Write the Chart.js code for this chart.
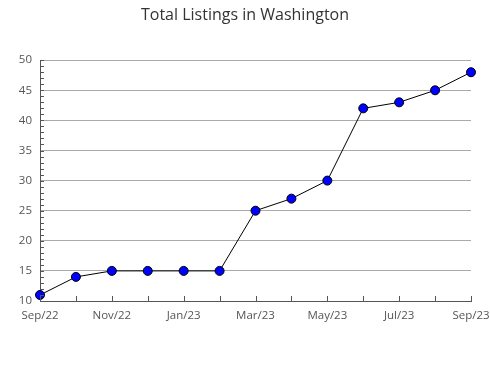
<!DOCTYPE html>
<html>
<head>
<meta charset="utf-8">
<script src="https://cdn.jsdelivr.net/npm/chart.js@4"></script>
<style>
  html, body { margin: 0; padding: 0; background: #fff; }
  #wrap { width: 490px; height: 380px; }
</style>
</head>
<body>
<div id="wrap"><canvas id="chart" width="490" height="380"></canvas></div>
<script>
const months = ["Sep/22", "Oct/22", "Nov/22", "Dec/22", "Jan/23", "Feb/23", "Mar/23",
                "Apr/23", "May/23", "Jun/23", "Jul/23", "Aug/23", "Sep/23"];
const listings = [11, 14, 15, 15, 15, 15, 25, 27, 30, 42, 43, 45, 48];
const yMin = 10;
const yMax = 50;

// small tick marks pointing into the plot
const innerTicks = {
  id: "innerTicks",
  afterDatasetsDraw(chart) {
    const c = chart.ctx;
    const x = chart.scales.x;
    const y = chart.scales.y;
    const area = chart.chartArea;
    c.save();
    c.strokeStyle = "#555";
    c.lineWidth = 1;
    c.beginPath();
    for (let v = yMin; v <= yMax; v++) {
      const py = Math.round(y.getPixelForValue(v)) + 0.5;
      c.moveTo(area.left, py);
      c.lineTo(area.left + 4, py);
    }
    for (let i = 0; i < months.length; i++) {
      const px = Math.round(x.getPixelForValue(i)) + 0.5;
      c.moveTo(px, area.bottom);
      c.lineTo(px, area.bottom - 5);
    }
    c.stroke();
    c.restore();
  }
};

new Chart(document.getElementById("chart"), {
  type: "line",
  data: {
    labels: months,
    datasets: [{
      data: listings,
      borderColor: "#000",
      borderWidth: 1,
      backgroundColor: "#0000ff",
      pointBackgroundColor: "#0000ff",
      pointBorderColor: "#000",
      pointBorderWidth: 1,
      pointRadius: 4.5,
      tension: 0
    }]
  },
  options: {
    responsive: false,
    animation: false,
    layout: { padding: 0 },
    plugins: {
      legend: { display: false },
      tooltip: { enabled: false },
      title: {
        display: true,
        text: "Total Listings in Washington",
        color: "#333",
        font: { family: "'Open Sans'", size: 16, weight: "normal" },
        padding: { top: 6, bottom: 35 }
      }
    },
    scales: {
      x: {
        offset: false,
        grid: { display: false },
        border: { display: true, color: "#555" },
        afterFit(s) { s.height = 79; s.paddingRight = 19; s.paddingLeft = 0; },
        ticks: {
          autoSkip: false,
          maxRotation: 0,
          padding: 0,
          color: "#555",
          font: { family: "'Open Sans'", size: 11.5 },
          callback: (v, i) => i % 2 === 0 ? months[i] : ""
        }
      },
      y: {
        min: yMin,
        max: yMax,
        afterFit(s) { s.width = 40; },
        grid: {
          drawTicks: false,
          color: ctx => ctx.tick && ctx.tick.value % 5 === 0 ? "#aaa" : "transparent"
        },
        border: { display: true, color: "#555" },
        ticks: {
          stepSize: 1,
          autoSkip: false,
          padding: 8,
          color: "#555",
          font: { family: "'Open Sans'", size: 11.5 },
          callback: v => v % 5 === 0 ? v : ""
        }
      }
    }
  },
  plugins: [innerTicks]
});
</script>
</body>
</html>
